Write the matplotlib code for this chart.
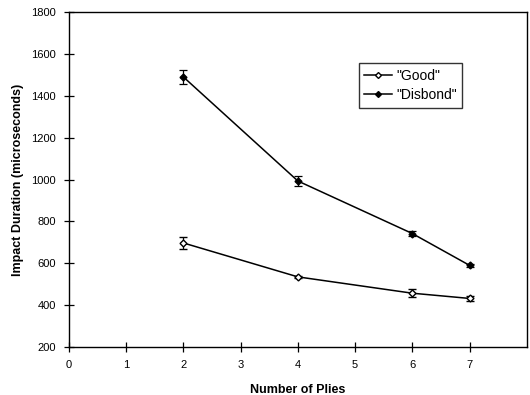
import matplotlib
matplotlib.use("Agg")
import matplotlib.pyplot as plt
from matplotlib.lines import Line2D

plies = [2, 4, 6, 7]
good = [697, 535, 457, 432]
good_err = [28, 6, 18, 12]
disbond = [1490, 993, 742, 590]
disbond_err = [35, 22, 10, 8]
xticks = [0, 1, 2, 3, 4, 5, 6, 7]
yticks = [200, 400, 600, 800, 1000, 1200, 1400, 1600, 1800]

plt.rcParams['font.family'] = ['Liberation Sans', 'DejaVu Sans']
fig = plt.figure(figsize=(5.3, 3.95), dpi=100)
ax = fig.add_axes([0.130, 0.1215, 0.864, 0.848])

ax.errorbar(plies, good, yerr=good_err, color='black', lw=1.1, marker='D', ms=3.5,
            mfc='white', mec='black', mew=1.0, capsize=3, elinewidth=0.9, capthick=0.9)
ax.errorbar(plies, disbond, yerr=disbond_err, color='black', lw=1.1, marker='D', ms=3.5,
            mfc='black', mec='black', capsize=3, elinewidth=0.9, capthick=0.9)

ax.set_xlim(0, 8)
ax.set_ylim(200, 1800)
ax.set_xticks(xticks)
ax.set_yticks(yticks)
ax.tick_params(axis='both', direction='inout', length=7, width=0.9, labelsize=8, pad=6)
for s in ax.spines.values():
    s.set_linewidth(1.0)

ax.set_xlabel('Number of Plies', fontsize=9, fontweight='bold', labelpad=10)
ax.set_ylabel('Impact Duration (microseconds)', fontsize=9, fontweight='bold', labelpad=5)

handles = [
    Line2D([], [], color='black', lw=1.1, marker='D', ms=3, mfc='white', mec='black'),
    Line2D([], [], color='black', lw=1.1, marker='D', ms=3, mfc='black', mec='black'),
]
leg = ax.legend(handles, ['"Good"', '"Disbond"'], loc='upper left',
                bbox_to_anchor=(0.633, 0.848), fontsize=10,
                frameon=True, fancybox=False, edgecolor='black', handlelength=2.0,
                borderpad=0.4, labelspacing=0.4, handletextpad=0.3, borderaxespad=0)
leg.get_frame().set_linewidth(1.0)

fig.savefig('out.png', dpi=100)
